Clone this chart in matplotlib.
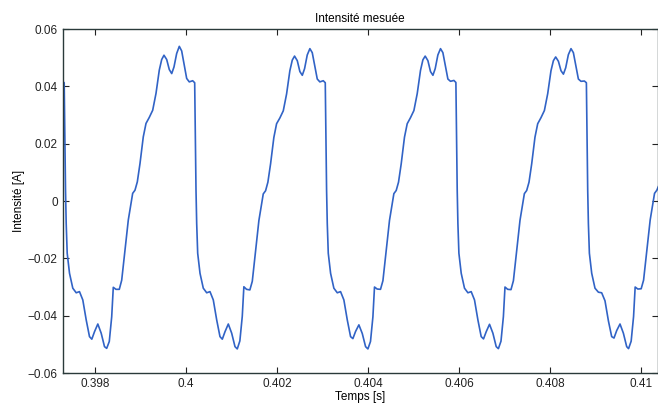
import matplotlib
matplotlib.use("Agg")
import matplotlib.pyplot as plt

plt.rcParams['font.family'] = ['Liberation Sans', 'DejaVu Sans']

t_start = [0.397286, 0.397323, 0.397336, 0.397352, 0.397367, 0.397389, 0.397440,
           0.397512, 0.397587, 0.397659, 0.397732, 0.397807, 0.397879, 0.397930,
           0.397989, 0.398062, 0.398136, 0.398209]
i_start = [0.0418, 0.0413, 0.0248, 0.0038, -0.0078, -0.0182, -0.0252,
           -0.0304, -0.0320, -0.0316, -0.0345, -0.0415, -0.0473, -0.0482,
           -0.0456, -0.0429, -0.0461, -0.0508]

t_cyc1 = [0.398257, 0.398314, 0.398367, 0.398402, 0.398461, 0.398534, 0.398587,
          0.398659, 0.398732, 0.398828, 0.398879, 0.398930, 0.398989, 0.399061,
          0.399121, 0.399193, 0.399268, 0.399341, 0.399413, 0.399466, 0.399516,
          0.399576, 0.399633, 0.399686, 0.399736, 0.399795, 0.399853, 0.399905,
          0.399956, 0.400015, 0.400072, 0.400147, 0.400191, 0.400204, 0.400220,
          0.400235, 0.400257, 0.400308, 0.400380, 0.400455, 0.400527, 0.400600,
          0.400675, 0.400747, 0.400798, 0.400857, 0.400930, 0.401004, 0.401077]
i_cyc1 = [-0.0514, -0.0490, -0.0404, -0.0301, -0.0308, -0.0308, -0.0276,
          -0.0171, -0.0066, 0.0027, 0.0038, 0.0067, 0.0131, 0.0224,
          0.0271, 0.0292, 0.0317, 0.0376, 0.0457, 0.0494, 0.0509,
          0.0494, 0.0459, 0.0445, 0.0468, 0.0515, 0.0540, 0.0524,
          0.0480, 0.0428, 0.0416, 0.0420, 0.0413, 0.0248, 0.0038,
          -0.0078, -0.0182, -0.0252, -0.0304, -0.0320, -0.0316, -0.0345,
          -0.0415, -0.0473, -0.0482, -0.0456, -0.0429, -0.0461, -0.0508]

t_cyc2 = [0.401127, 0.401184, 0.401237, 0.401272, 0.401331, 0.401404, 0.401457,
          0.401529, 0.401602, 0.401698, 0.401749, 0.401800, 0.401859, 0.401931,
          0.401991, 0.402063, 0.402138, 0.402211, 0.402283, 0.402336, 0.402386,
          0.402446, 0.402503, 0.402556, 0.402606, 0.402665, 0.402723, 0.402775,
          0.402826, 0.402885, 0.402942, 0.403017, 0.403061, 0.403074, 0.403090,
          0.403105, 0.403127, 0.403178, 0.403250, 0.403325, 0.403397, 0.403470,
          0.403545, 0.403617, 0.403668, 0.403727, 0.403800, 0.403874, 0.403947]
i_cyc2 = [-0.0516, -0.0488, -0.0402, -0.0299, -0.0308, -0.0310, -0.0280,
          -0.0175, -0.0068, 0.0025, 0.0036, 0.0066, 0.0130, 0.0222,
          0.0270, 0.0290, 0.0315, 0.0374, 0.0455, 0.0492, 0.0506,
          0.0490, 0.0452, 0.0439, 0.0462, 0.0510, 0.0532, 0.0518,
          0.0476, 0.0426, 0.0416, 0.0420, 0.0413, 0.0248, 0.0038,
          -0.0078, -0.0182, -0.0252, -0.0304, -0.0320, -0.0316, -0.0345,
          -0.0415, -0.0473, -0.0480, -0.0455, -0.0432, -0.0462, -0.0508]

t_cyc3 = [0.403998, 0.404055, 0.404108, 0.404143, 0.404202, 0.404275, 0.404328,
          0.404400, 0.404473, 0.404569, 0.404620, 0.404671, 0.404730, 0.404802,
          0.404862, 0.404934, 0.405009, 0.405082, 0.405154, 0.405207, 0.405257,
          0.405317, 0.405374, 0.405427, 0.405477, 0.405536, 0.405594, 0.405646,
          0.405697, 0.405756, 0.405813, 0.405888, 0.405932, 0.405945, 0.405961,
          0.405976, 0.405998, 0.406049, 0.406121, 0.406196, 0.406268, 0.406341,
          0.406416, 0.406488, 0.406539, 0.406598, 0.406671, 0.406745, 0.406818]
i_cyc3 = [-0.0516, -0.0490, -0.0404, -0.0300, -0.0307, -0.0308, -0.0278,
          -0.0173, -0.0067, 0.0026, 0.0037, 0.0066, 0.0130, 0.0223,
          0.0270, 0.0291, 0.0316, 0.0375, 0.0456, 0.0493, 0.0506,
          0.0490, 0.0452, 0.0439, 0.0462, 0.0510, 0.0532, 0.0518,
          0.0476, 0.0426, 0.0418, 0.0421, 0.0414, 0.0248, 0.0038,
          -0.0078, -0.0182, -0.0252, -0.0304, -0.0320, -0.0316, -0.0345,
          -0.0415, -0.0473, -0.0481, -0.0456, -0.0430, -0.0461, -0.0508]

t_cyc4 = [0.406866, 0.406923, 0.406976, 0.407011, 0.407070, 0.407143, 0.407196,
          0.407268, 0.407341, 0.407437, 0.407488, 0.407539, 0.407598, 0.407670,
          0.407730, 0.407802, 0.407877, 0.407950, 0.408022, 0.408075, 0.408125,
          0.408185, 0.408242, 0.408295, 0.408345, 0.408404, 0.408462, 0.408514,
          0.408565, 0.408624, 0.408681, 0.408756, 0.408800, 0.408813, 0.408829,
          0.408844, 0.408866, 0.408917, 0.408989, 0.409064, 0.409136, 0.409209,
          0.409284, 0.409356, 0.409407, 0.409466, 0.409539, 0.409613, 0.409686]
i_cyc4 = [-0.0515, -0.0489, -0.0403, -0.0300, -0.0308, -0.0309, -0.0278,
          -0.0172, -0.0067, 0.0026, 0.0037, 0.0066, 0.0130, 0.0223,
          0.0270, 0.0291, 0.0316, 0.0375, 0.0455, 0.0490, 0.0503,
          0.0488, 0.0455, 0.0443, 0.0465, 0.0511, 0.0532, 0.0518,
          0.0476, 0.0426, 0.0418, 0.0419, 0.0413, 0.0248, 0.0038,
          -0.0078, -0.0182, -0.0252, -0.0304, -0.0318, -0.0320, -0.0348,
          -0.0418, -0.0473, -0.0478, -0.0452, -0.0429, -0.0461, -0.0508]

t_end = [0.409727, 0.409784, 0.409837, 0.409872, 0.409931, 0.410004, 0.410057,
         0.410129, 0.410202, 0.410298, 0.410349, 0.410380]
i_end = [-0.0515, -0.0489, -0.0403, -0.0300, -0.0307, -0.0306, -0.0276,
         -0.0171, -0.0066, 0.0027, 0.0038, 0.0050]

temps = t_start + t_cyc1 + t_cyc2 + t_cyc3 + t_cyc4 + t_end
intensite = i_start + i_cyc1 + i_cyc2 + i_cyc3 + i_cyc4 + i_end

fig = plt.figure(figsize=(6.58, 4.05), dpi=100)
ax = fig.add_axes([0.095, 0.079, 0.905, 0.849])
ax.plot(temps, intensite, color='#3163c6', linewidth=1.2)
ax.set_xlim(0.397286, 0.410374)
ax.set_ylim(-0.06, 0.06)
ax.set_xticks([0.398, 0.4, 0.402, 0.404, 0.406, 0.408, 0.41])
ax.set_xticklabels(['0.398', '0.4', '0.402', '0.404', '0.406', '0.408', '0.41'])
ax.set_yticks([-0.06, -0.04, -0.02, 0, 0.02, 0.04, 0.06])
ax.set_yticklabels(['\u22120.06', '\u22120.04', '\u22120.02', '0', '0.02', '0.04', '0.06'])
ax.tick_params(direction='in', length=4, top=True, right=True, labelsize=8.5, colors='#222222')
for s in ax.spines.values():
    s.set_color('#2a3a3a')
    s.set_linewidth(1.0)
ax.set_title("Intensité mesuée", fontsize=8.5, pad=5)
ax.set_xlabel("Temps [s]", fontsize=8.5, labelpad=1)
ax.set_ylabel("Intensité [A]", fontsize=8.5, labelpad=2)
fig.savefig("out.png", dpi=100)
